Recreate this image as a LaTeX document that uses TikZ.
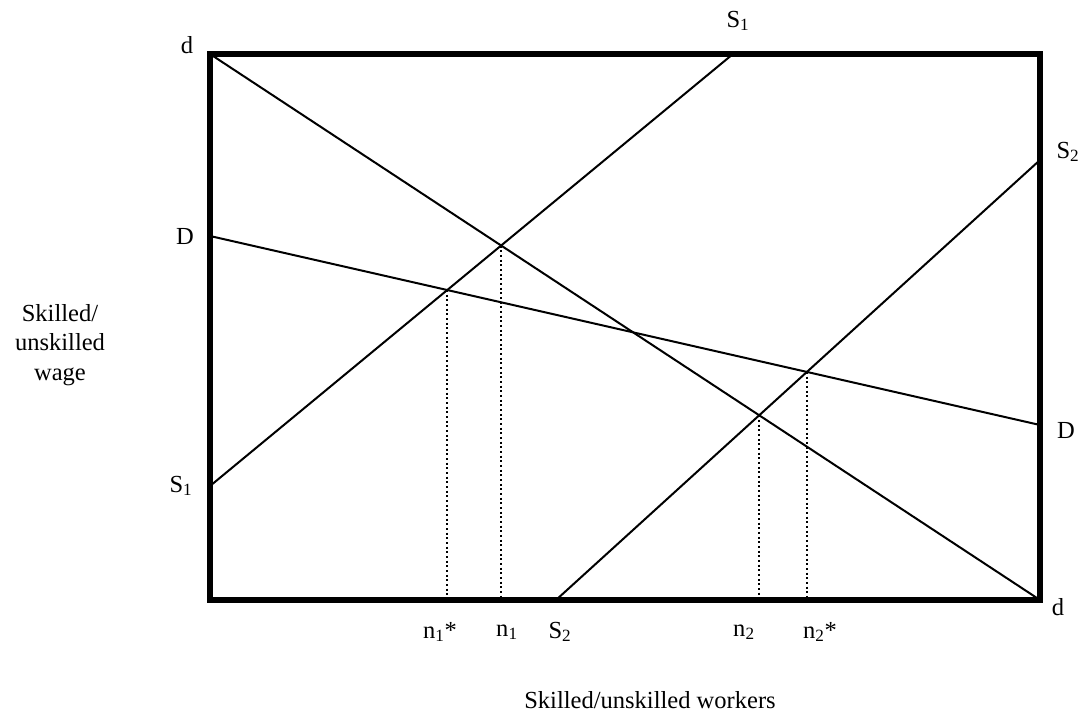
\documentclass[tikz,border=0pt]{standalone}
\usepackage{fontspec}
\setmainfont{Liberation Serif}
\usetikzlibrary{intersections}

\begin{document}
\begin{tikzpicture}[x=0.75pt,y=-0.75pt,
  frame/.style={line width=4.5pt},
  curve/.style={line width=1.5pt},
  dropline/.style={line width=1.5pt,dotted},
  lbl/.style={font=\fontsize{18.4}{22}\selectfont,inner sep=0pt}]
\useasboundingbox (0,0) rectangle (1086,715);
% Box corners and line ends
\coordinate (tl) at (210,54);
\coordinate (br) at (1040,600);
\coordinate (Dl) at (210,236);
\coordinate (Dr) at (1040,425);
\coordinate (S1l) at (210,486);
\coordinate (S1t) at (733,54);
\coordinate (S2b) at (556,600);
\coordinate (S2r) at (1040,160);
% Lines
\draw[curve, name path=dd] (tl) -- (br);
\draw[curve, name path=DD] (Dl) -- (Dr);
\draw[curve, name path=ss1] (S1l) -- (S1t);
\draw[curve, name path=ss2] (S2b) -- (S2r);
% Frame
\draw[frame] (tl) rectangle (br);
% Intersections
\path[name intersections={of=dd and ss1, by=e1}];
\path[name intersections={of=DD and ss1, by=e1s}];
\path[name intersections={of=dd and ss2, by=e2}];
\path[name intersections={of=DD and ss2, by=e2s}];
\draw[dropline] (e1s) -- (e1s |- br);
\draw[dropline] (e1) -- (e1 |- br);
\draw[dropline] (e2) -- (e2 |- br);
\draw[dropline] (e2s) -- (e2s |- br);
% Line labels
\node[lbl] (ltl) at (187,45) {d};
\node[lbl] (lbr) at (1058,607) {d};
\node[lbl] (lDl) at (185,236) {D};
\node[lbl] (lDr) at (1066,430) {D};
\node[lbl] (lS1l) at (181,486) {S\textsubscript{1}};
\node[lbl] (lS1t) at (738,21) {S\textsubscript{1}};
\node[lbl] (lS2r) at (1068,152) {S\textsubscript{2}};
\node[lbl] (lS2b) at (560,632) {S\textsubscript{2}};
% Quantity labels
\node[lbl] (ln1s) at (440,632) {n\textsubscript{1}*};
\node[lbl] (ln1) at (507,632) {n\textsubscript{1}};
\node[lbl] (ln2) at (744,632) {n\textsubscript{2}};
\node[lbl] (ln2s) at (820,632) {n\textsubscript{2}*};
% Axis titles
\node[lbl, align=center] (ytitle) at (60,345) {Skilled/\\unskilled\\wage};
\node[lbl] (xtitle) at (650,700) {Skilled/unskilled workers};
\end{tikzpicture}
\end{document}
